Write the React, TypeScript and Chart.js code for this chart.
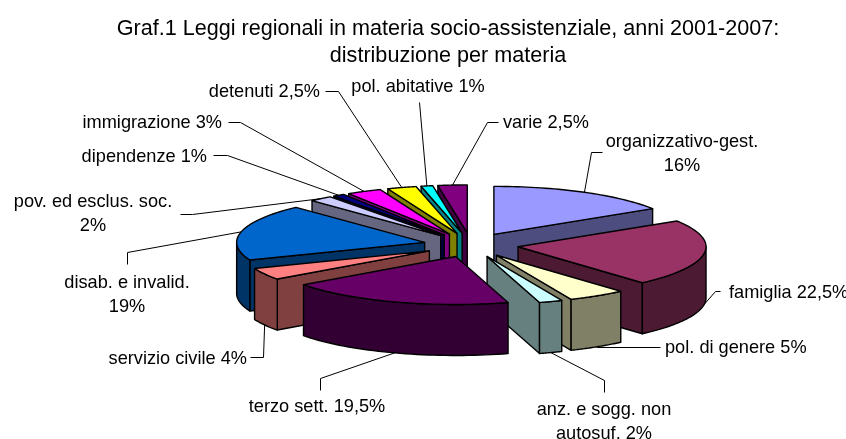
import React, { useEffect, useRef } from "react";
import { Chart, registerables } from "chart.js";

Chart.register(...registerables);

const titleLines = [
  "Graf.1 Leggi regionali in materia socio-assistenziale, anni 2001-2007:",
  "distribuzione per materia",
];
const categories = [
  "organizzativo-gest.", "famiglia", "pol. di genere", "anz. e sogg. non autosuf.",
  "terzo sett.", "servizio civile", "disab. e invalid.", "pov. ed esclus. soc.",
  "dipendenze", "immigrazione", "detenuti", "pol. abitative", "varie",
];
const values = [16, 22.5, 5, 2, 19.5, 4, 19, 2, 1, 3, 2.5, 1, 2.5];
const topColors = [
  "#9999FF", "#993366", "#FFFFCC", "#CCFFFF", "#660066", "#FF8080", "#0066CC",
  "#CCCCFF", "#000080", "#FF00FF", "#FFFF00", "#00FFFF", "#800080",
];
const wallColors = [
  "#4D4D80", "#4D1A33", "#808066", "#668080", "#330033", "#804040", "#003366",
  "#666680", "#000040", "#800080", "#808000", "#008080", "#400040",
];
const labelTexts = [
  ["organizzativo-gest.", "16%"], ["famiglia 22,5%"], ["pol. di genere 5%"],
  ["anz. e sogg. non", "autosuf. 2%"], ["terzo sett. 19,5%"], ["servizio civile 4%"],
  ["disab. e invalid.", "19%"], ["pov. ed esclus. soc.", "2%"], ["dipendenze 1%"],
  ["immigrazione 3%"], ["detenuti 2,5%"], ["pol. abitative 1%"], ["varie 2,5%"],
];
// label placement: x, y of first-line centre, alignment
const labelPlaces: [number, number, CanvasTextAlign][] = [
  [682, 142, "center"], [729, 293, "left"], [665, 348, "left"], [604, 410, "center"],
  [317, 407, "center"], [247, 359, "right"], [127, 283, "center"], [93, 202, "center"],
  [207, 157, "right"], [222, 123, "right"], [320, 92, "right"], [418, 87, "center"], [503, 123, "left"],
];
// leader elbows from the label side towards the slice
const leaderElbows: [number, number][][] = [
  [[602, 152], [591, 152]], [[720, 291], [715, 291]], [[660, 347], [597, 347]],
  [[604, 392], [604, 380]], [[320, 390], [320, 378]], [[250, 357], [263, 357]],
  [[127, 264], [127, 252]], [[180, 214], [192, 214]], [[213, 155], [227, 155]],
  [[228, 122], [240, 122]], [[325, 91], [338, 91]], [[419, 102]], [[498, 122], [487, 122]],
];

const PIE_CX = 471;
const PIE_CY = 245;
const RADIUS = 188;
const SQUASH = 48 / 188;
const DEPTH = 51;
const EXPLODE = 47.5;
const FONT = '18.2px "Liberation Sans", Arial, sans-serif';

const pie3d = {
  id: "pie3d",
  beforeDatasetDraw(chart: any) {
    const ctx: CanvasRenderingContext2D = chart.ctx;
    const arcs: any[] = chart.getDatasetMeta(0).data;
    const geom = arcs.map((arc) => {
      const r = arc.outerRadius;
      const a0 = arc.startAngle;
      const a1 = arc.endAngle;
      const mid = (a0 + a1) / 2;
      const cx = PIE_CX + Math.cos(mid) * EXPLODE;
      const cy = PIE_CY + Math.sin(mid) * EXPLODE * SQUASH;
      const pt = (a: number, z = 0): [number, number] => [cx + Math.cos(a) * r, cy + Math.sin(a) * r * SQUASH + z];
      return { arc, a0, a1, cx, cy, pt };
    });
    const HALF = Math.PI / 2; // screen bottom in chart.js angle terms
    const right = geom.filter((g) => g.a1 <= HALF);
    const left = geom.filter((g) => g.a0 >= HALF).reverse();
    const mid = geom.filter((g) => g.a0 < HALF && g.a1 > HALF);
    const order = [...right, ...left, ...mid];
    ctx.save();
    ctx.lineWidth = 1.4;
    ctx.strokeStyle = "#000";
    ctx.lineJoin = "round";
    const paint = (fill: string) => {
      ctx.fillStyle = fill;
      ctx.fill();
      ctx.stroke();
    };
    for (const g of order) {
      const i = geom.indexOf(g);
      const wall = wallColors[i];
      const face = (a: number) => {
        const p = g.pt(a);
        ctx.beginPath();
        ctx.moveTo(g.cx, g.cy);
        ctx.lineTo(p[0], p[1]);
        ctx.lineTo(p[0], p[1] + DEPTH);
        ctx.lineTo(g.cx, g.cy + DEPTH);
        ctx.closePath();
        paint(wall);
      };
      // radial cut faces that look towards the viewer
      if (Math.cos(g.a0) < -1e-6) face(g.a0);
      if (Math.cos(g.a1) > 1e-6) face(g.a1);
      // outer curved wall, only the part with the rim on the near side
      const from = Math.max(g.a0, 0);
      const to = Math.min(g.a1, Math.PI);
      if (to > from) {
        ctx.beginPath();
        const n = 40;
        for (let s = 0; s <= n; s++) {
          const p = g.pt(from + ((to - from) * s) / n);
          s ? ctx.lineTo(p[0], p[1]) : ctx.moveTo(p[0], p[1]);
        }
        for (let s = n; s >= 0; s--) {
          const p = g.pt(from + ((to - from) * s) / n, DEPTH);
          ctx.lineTo(p[0], p[1]);
        }
        ctx.closePath();
        paint(wall);
      }
      // top surface through the library's own arc element
      ctx.save();
      ctx.translate(g.cx - g.arc.x, g.cy - g.arc.y * SQUASH);
      ctx.scale(1, SQUASH);
      g.arc.draw(ctx);
      ctx.restore();
      ctx.beginPath();
      ctx.moveTo(g.cx, g.cy);
      const n = 40;
      for (let s = 0; s <= n; s++) {
        const p = g.pt(g.a0 + ((g.a1 - g.a0) * s) / n);
        ctx.lineTo(p[0], p[1]);
      }
      ctx.closePath();
      ctx.stroke();
    }
    ctx.restore();
    return false;
  },
  afterDraw(chart: any) {
    const ctx: CanvasRenderingContext2D = chart.ctx;
    const arcs: any[] = chart.getDatasetMeta(0).data;
    ctx.save();
    ctx.strokeStyle = "#000";
    ctx.fillStyle = "#000";
    ctx.lineWidth = 1;
    ctx.font = FONT;
    ctx.textBaseline = "middle";
    arcs.forEach((arc, i) => {
      const mid = (arc.startAngle + arc.endAngle) / 2;
      const reach = arc.outerRadius + EXPLODE;
      const ax = PIE_CX + Math.cos(mid) * reach;
      const ay = PIE_CY + Math.sin(mid) * reach * SQUASH + (Math.sin(mid) > 0 ? DEPTH : 0);
      ctx.beginPath();
      leaderElbows[i].forEach(([x, y], k) => (k ? ctx.lineTo(x + 0.5, y + 0.5) : ctx.moveTo(x + 0.5, y + 0.5)));
      ctx.lineTo(ax, ay);
      ctx.stroke();
      const [lx, ly, align] = labelPlaces[i];
      ctx.textAlign = align;
      labelTexts[i].forEach((t, k) => ctx.fillText(t, lx, ly + k * 24));
    });
    ctx.restore();
  },
};

export default function App() {
  const ref = useRef<HTMLCanvasElement>(null);
  useEffect(() => {
    const chart = new Chart(ref.current!, {
      type: "pie",
      data: {
        labels: categories,
        datasets: [{ data: values, backgroundColor: topColors, borderWidth: 0, offset: 0, hoverOffset: 0 }],
      },
      options: {
        responsive: false,
        animation: false,
        radius: RADIUS,
        layout: { padding: { left: 50, right: 0 } },
        plugins: {
          legend: { display: false },
          tooltip: { enabled: false },
          title: {
            display: true,
            text: titleLines,
            color: "#000",
            font: { family: '"Liberation Sans", Arial, sans-serif', size: 21.6, weight: "normal", lineHeight: 1.25 },
            padding: { top: 16, bottom: 0 },
          },
        },
      },
      plugins: [pie3d],
    } as any);
    return () => chart.destroy();
  }, []);
  return (
    <div style={{ position: "absolute", left: 0, top: 0, width: 846, height: 439 }}>
      <canvas ref={ref} width={846} height={439} style={{ display: "block" }} />
    </div>
  );
}
